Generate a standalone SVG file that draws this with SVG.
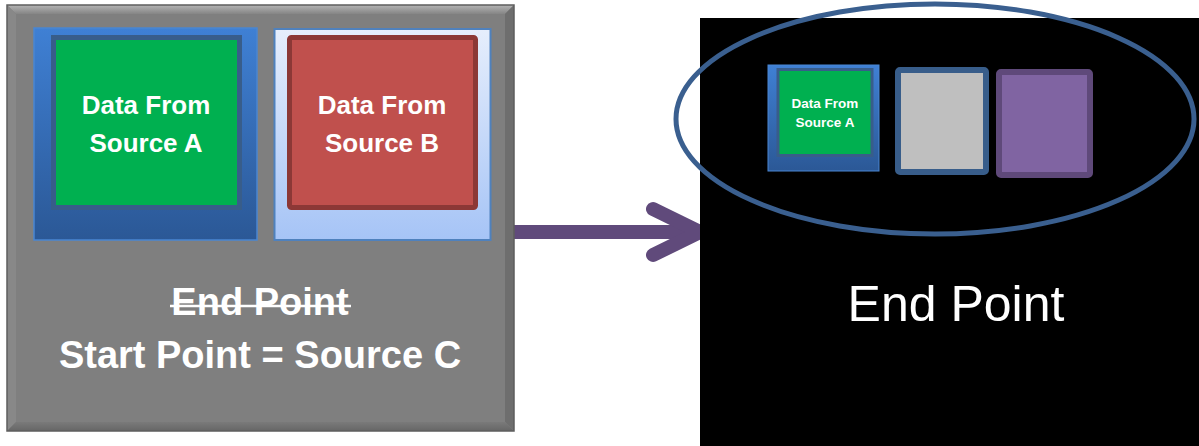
<svg xmlns="http://www.w3.org/2000/svg" width="1199" height="446" viewBox="0 0 1199 446">
  <defs>
    <linearGradient id="blueFrame" x1="0" y1="0" x2="0" y2="1">
      <stop offset="0" stop-color="#3f80d4"/>
      <stop offset="1" stop-color="#2b5896"/>
    </linearGradient>
    <linearGradient id="paleFrame" x1="0" y1="0" x2="0" y2="1">
      <stop offset="0" stop-color="#e6eefc"/>
      <stop offset="1" stop-color="#a6c4f6"/>
    </linearGradient>
    <linearGradient id="bevelTop" x1="0" y1="0" x2="0" y2="1">
      <stop offset="0" stop-color="#b4b4b4"/>
      <stop offset="1" stop-color="#858585"/>
    </linearGradient>
    <linearGradient id="bevelBottom" x1="0" y1="0" x2="0" y2="1">
      <stop offset="0" stop-color="#7a7a7a"/>
      <stop offset="1" stop-color="#666666"/>
    </linearGradient>
  </defs>
  <style>
    .label { font-family: "Liberation Sans", Arial, sans-serif; font-weight: bold; fill: #ffffff; text-anchor: middle; }
    .big { font-size: 38px; }
    .mid { font-size: 26px; }
    .small { font-size: 13.5px; }
    .endpoint { font-family: "Liberation Sans", Arial, sans-serif; font-size: 50px; fill: #ffffff; text-anchor: middle; }
    .arrow { stroke: #604a7b; stroke-width: 14; fill: none; stroke-linecap: round; stroke-linejoin: round; }
  </style>

  <rect width="1199" height="446" fill="#ffffff"/>

  <!-- connector, drawn first so the target panel edge cuts its tip -->
  <g id="connectors">
    <line class="arrow" x1="512" y1="232" x2="700" y2="232" stroke-linecap="butt"/>
    <polyline class="arrow" points="653,209 700,232 653,255"/>
  </g>

  <!-- target panel (black) -->
  <g id="target-panel">
    <rect x="700" y="18" width="499" height="428" fill="#000000"/>
    <text class="endpoint" x="956" y="321">End Point</text>
  </g>

  <!-- source panel: beveled gray box -->
  <g id="source-panel">
    <rect x="7" y="5" width="507" height="426" fill="#7f7f7f"/>
    <polygon points="7,5 514,5 505,14 16,14" fill="url(#bevelTop)"/>
    <polygon points="7,5 16,14 16,422 7,431" fill="#888888"/>
    <polygon points="514,5 514,431 505,422 505,14" fill="#6e6e6e"/>
    <polygon points="7,431 16,422 505,422 514,431" fill="url(#bevelBottom)"/>
    <rect x="7" y="5" width="507" height="426" fill="none" stroke="#5e5e5e" stroke-width="1.5"/>
    <text class="label big" x="260" y="315">End Point</text>
    <line x1="170" y1="306" x2="351" y2="306" stroke="#ffffff" stroke-width="2.5"/>
    <text class="label big" x="260" y="368">Start Point = Source C</text>
  </g>

  <!-- source A, inside the source panel -->
  <g id="source-a">
    <rect x="34" y="28" width="223" height="212" fill="url(#blueFrame)" stroke="#4a86d2" stroke-width="1.5"/>
    <rect x="53.5" y="37.5" width="186" height="170" fill="#00b050" stroke="#385d8a" stroke-width="5"/>
    <text class="label mid" x="146" y="114">Data From</text>
    <text class="label mid" x="146" y="152">Source A</text>
  </g>

  <!-- source B, inside the source panel -->
  <g id="source-b">
    <rect x="274.5" y="29" width="216" height="211" fill="url(#paleFrame)" stroke="#4f81bd" stroke-width="2"/>
    <rect x="289.5" y="37.5" width="186" height="170" rx="2" fill="#c0504d" stroke="#8c3836" stroke-width="5"/>
    <text class="label mid" x="382" y="114">Data From</text>
    <text class="label mid" x="382" y="152">Source B</text>
  </g>

  <!-- merged data set inside the target panel -->
  <g id="merged-a">
    <rect x="768" y="65" width="111" height="106" fill="url(#blueFrame)" stroke="#4a86d2" stroke-width="1"/>
    <rect x="778" y="69.5" width="94" height="86" fill="#00b050" stroke="#385d8a" stroke-width="3"/>
    <text class="label small" x="825" y="108">Data From</text>
    <text class="label small" x="825" y="127">Source A</text>
  </g>
  <g id="merged-gray">
    <rect x="898" y="70" width="88" height="102" rx="2" fill="#bfbfbf" stroke="#385d8a" stroke-width="6"/>
  </g>
  <g id="merged-purple">
    <rect x="999" y="72" width="91" height="103" rx="2" fill="#8064a2" stroke="#5f497a" stroke-width="6"/>
  </g>
  <g id="merged-outline">
    <ellipse cx="935" cy="119" rx="259" ry="115" fill="none" stroke="#3a5f8f" stroke-width="5"/>
  </g>
</svg>
